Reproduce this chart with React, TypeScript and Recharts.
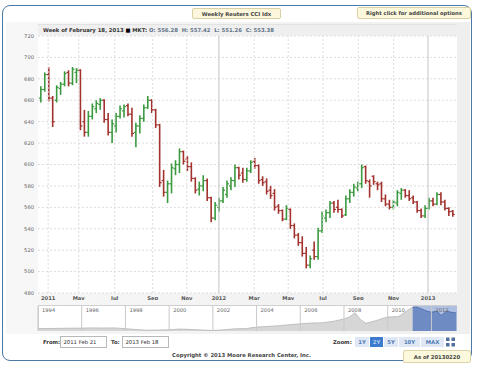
import React from 'react';
import {
  ComposedChart, Bar, XAxis, YAxis, CartesianGrid, ReferenceLine,
  AreaChart, Area, ReferenceArea,
} from 'recharts';

// ---- weekly OHLC (Feb 21 2011 .. Feb 18 2013), index = week number ----
const opens = [
  662, 670, 684, 662, 660, 671, 675, 686, 676, 686, 688, 640, 630, 645, 652, 656, 660, 642, 630, 636,
  645, 650, 655, 647, 630, 636, 643, 653, 660, 651, 637, 585, 574, 582, 596, 600, 612, 605, 598, 587,
  577, 580, 585, 569, 550, 560, 566, 572, 580, 585, 597, 592, 586, 594, 603, 599, 586, 584, 576, 573,
  561, 557, 549, 558, 543, 534, 527, 517, 506, 520, 514, 538, 550, 555, 564, 560, 558, 553, 568, 574,
  578, 582, 598, 584, 589, 582, 582, 568, 563, 560, 564, 573, 576, 571, 569, 565, 557, 552, 559, 566,
  563, 572, 565, 559, 556.28,
];
const highs = [
  673, 686, 691, 664, 674, 677, 687, 688, 691, 690, 689, 651, 650, 657, 660, 662, 661, 648, 642, 648,
  655, 656, 657, 653, 639, 646, 656, 664, 661, 652, 638, 595, 585, 601, 604, 615, 613, 608, 602, 588,
  584, 590, 587, 570, 565, 569, 579, 585, 588, 600, 598, 597, 597, 604, 606, 600, 589, 587, 580, 577,
  563, 558, 562, 559, 545, 536, 533, 523, 515, 528, 541, 556, 558, 566, 566, 567, 559, 571, 577, 582,
  584, 600, 599, 586, 590, 584, 584, 572, 567, 567, 576, 578, 577, 576, 571, 566, 559, 562, 569, 569,
  574, 574, 567, 560, 557.42,
];
const lows = [
  658, 668, 659, 635, 658, 665, 673, 673, 674, 676, 632, 626, 626, 642, 648, 651, 639, 627, 620, 630,
  643, 644, 645, 626, 616, 629, 640, 652, 648, 634, 579, 570, 564, 573, 590, 592, 600, 594, 584, 573,
  571, 575, 566, 546, 548, 556, 564, 569, 576, 579, 586, 583, 584, 592, 596, 582, 580, 572, 568, 557,
  554, 547, 548, 540, 531, 524, 514, 503, 503, 511, 511, 536, 546, 550, 555, 555, 550, 552, 564, 570,
  575, 578, 582, 569, 581, 576, 565, 561, 558, 558, 561, 567, 569, 566, 563, 555, 550, 550, 558, 561,
  562, 562, 557, 552, 551.26,
];
const closes = [
  670, 684, 662, 640, 672, 675, 685, 676, 689, 688, 636, 630, 645, 654, 657, 660, 642, 630, 638, 645,
  652, 654, 647, 629, 636, 643, 653, 660, 651, 637, 583, 574, 582, 597, 600, 612, 603, 598, 587, 576,
  580, 585, 569, 550, 562, 566, 576, 582, 585, 597, 590, 586, 594, 602, 599, 585, 583, 575, 571, 560,
  557, 549, 559, 543, 534, 527, 517, 506, 512, 514, 538, 552, 555, 564, 558, 558, 552, 568, 574, 579,
  582, 597, 585, 580, 584, 581, 568, 563, 560, 565, 574, 576, 571, 568, 565, 557, 552, 559, 566, 563,
  572, 565, 559, 556, 553.38,
];

const yTicks = [480, 500, 520, 540, 560, 580, 600, 620, 640, 660, 680, 700, 720];
const xTickPos = [1.8, 9.5, 18.6, 28.2, 36.8, 44.9, 53.8, 62.4, 71.2, 80.1, 89.0, 97.7];
const xTickLabels = ['2011', 'May', 'Jul', 'Sep', 'Nov', '2012', 'Mar', 'May', 'Jul', 'Sep', 'Nov', '2013'];
const yearLabels = ['2012', '2013'];

// ---- navigator (long history) ----
const navYears = [
  1994, 1994.5, 1995, 1995.5, 1996, 1996.5, 1997, 1997.5, 1998, 1998.5, 1999, 1999.5, 2000, 2000.5,
  2001, 2001.5, 2002, 2002.5, 2003, 2003.5, 2004, 2004.5, 2005, 2005.5, 2006, 2006.5, 2007, 2007.5,
  2008, 2008.25, 2008.5, 2008.75, 2009, 2009.25, 2009.5, 2009.75, 2010, 2010.5, 2010.75, 2011, 2011.14,
  2011.3, 2011.5, 2011.75, 2012, 2012.25, 2012.4, 2012.45, 2012.6, 2012.7, 2012.9, 2013.1, 2013.13,
];
const navValues = [
  230, 232, 235, 238, 240, 245, 242, 245, 228, 210, 195, 200, 205, 220,
  212, 200, 190, 205, 225, 230, 262, 275, 290, 310, 330, 345, 350, 380,
  430, 470, 560, 420, 340, 370, 400, 440, 470, 480, 560, 640, 670,
  680, 650, 600, 570, 595, 530, 505, 560, 595, 570, 560, 553,
];
const navSelStart = 2011.14;
const navEnd = 2013.17;
const navTicks = [1994, 1996, 1998, 2000, 2002, 2004, 2006, 2008, 2010, 2012];

const data = opens.map((o, i) => ({
  i, open: o, high: highs[i], low: lows[i], close: closes[i], range: [lows[i], highs[i]],
}));
const navData = navYears.map((yr, k) => ({
  yr,
  hist: yr <= navSelStart ? navValues[k] : null,
  sel: yr >= navSelStart ? navValues[k] : null,
}));

const last = data[data.length - 1];
const FONT = '"DejaVu Sans", Verdana, sans-serif';
const UP = '#3b9a3f';
const DOWN = '#a3322e';

const OhlcShape = (props: any) => {
  const { x, y, width, height, payload } = props;
  if (x == null || y == null) return null;
  const { open, close, high, low } = payload;
  const cx = x + width / 2;
  const toY = (v: number) => y + ((high - v) / (high - low)) * height;
  const color = close >= open ? UP : DOWN;
  return (
    <g>
      <line x1={cx} x2={cx} y1={y} y2={y + height} stroke={color} strokeWidth={1.6} />
      <line x1={cx - 2} x2={cx} y1={toY(open)} y2={toY(open)} stroke={color} strokeWidth={1.2} />
      <line x1={cx} x2={cx + 2} y1={toY(close)} y2={toY(close)} stroke={color} strokeWidth={1.2} />
    </g>
  );
};

const XTick = (props: any) => {
  const { x, y, payload } = props;
  const idx = xTickPos.indexOf(payload.value);
  return (
    <text x={x} y={y} dy="0.71em" textAnchor="middle" fontFamily={FONT} fontSize={5.2}
      fontWeight="bold" fill="#555">{xTickLabels[idx]}</text>
  );
};
const YTick = (props: any) => {
  const { x, y, payload } = props;
  return (
    <text x={x} y={y} dy="0.355em" textAnchor="end" fontFamily={FONT} fontSize={5.2} fill="#666">
      {payload.value}
    </text>
  );
};
const NavTick = (props: any) => {
  const { x, payload } = props;
  return (
    <text x={x + 4} y={3} dy="0.71em" textAnchor="start" fontFamily={FONT} fontSize={5.2} fill="#666">
      {payload.value}
    </text>
  );
};

const abs = (l: number, t: number, extra: any = {}) => ({ position: 'absolute' as const, left: l, top: t, ...extra });

export default function App() {
  return (
    <div style={{ position: 'absolute', left: 0, top: 0, width: 480, height: 369, background: '#fff', fontFamily: FONT, overflow: 'hidden' }}>
      {/* outer frame */}
      <div style={abs(2, 5, { width: 468, height: 354, border: '1.5px solid #4d79a6', borderRadius: 8, background: '#fff' })} />
      {/* gray chart background */}
      <div style={abs(6, 22, { width: 464, height: 312, background: 'linear-gradient(to right, #f7f7f7, #efefef)' })} />

      {/* main chart */}
      <div style={abs(0, 0)}>
        <ComposedChart width={480} height={300} data={data}
          margin={{ top: 36, right: 23, left: 0, bottom: 0 }}>
          <CartesianGrid horizontal vertical={false} stroke="#dcdcdc" strokeDasharray="2 2" fill="#fff" />
          <XAxis dataKey="i" type="number" domain={[-0.76, 105.01]} allowDataOverflow ticks={xTickPos}
            interval={0} axisLine={false} tickLine={false} tickSize={0} tickMargin={3} height={7} tick={<XTick />} />
          <YAxis type="number" domain={[480, 720]} allowDataOverflow ticks={yTicks} interval={0}
            axisLine={false} tickLine={false} tickSize={0} tickMargin={4} width={38} tick={<YTick />} />
          {xTickPos.map((p, k) => (
            <ReferenceLine key={k} x={p} stroke={yearLabels.includes(xTickLabels[k]) ? '#c4c4c4' : '#dcdcdc'}
              strokeDasharray={yearLabels.includes(xTickLabels[k]) ? undefined : '2 2'} />
          ))}
          <Bar dataKey="range" barSize={4} isAnimationActive={false} shape={<OhlcShape />} />
        </ComposedChart>
      </div>

      {/* header strip */}
      <div style={abs(38, 24, { width: 419, height: 10, background: '#efefef', borderTop: '1px solid #e2e2e2' })}>
        <div style={{ position: 'absolute', left: 5, top: 1.5, fontSize: 5.3, fontWeight: 'bold', whiteSpace: 'nowrap', color: '#333' }}>
          Week of February 18, 2013 <span style={{ color: '#000' }}>■</span> MKT:{' '}
          <span style={{ color: '#5f7286' }}>O: {last.open.toFixed(2)}&nbsp; H: {last.high.toFixed(2)}&nbsp; L: {last.low.toFixed(2)}&nbsp; C: {last.close.toFixed(2)}</span>
        </div>
      </div>

      {/* title buttons */}
      <div style={abs(192, 8, { width: 89, height: 11, background: '#fbf6dc', border: '1px solid #d9d0a3', borderRadius: 2, boxSizing: 'border-box', fontSize: 5.3, fontWeight: 'bold', color: '#444', textAlign: 'center', lineHeight: '10px' })}>
        Weekly Reuters CCI Idx
      </div>
      <div style={abs(357, 7, { width: 114, height: 12, background: '#fbf8dc', border: '1px solid #d9d0a3', borderRadius: 2, boxSizing: 'border-box', fontSize: 5.2, fontWeight: 'bold', color: '#444', textAlign: 'center', lineHeight: '11px' })}>
        Right click for additional options
      </div>

      {/* navigator */}
      <div style={abs(38, 305, { width: 419, height: 26, border: '1px solid #cfcfcf', boxSizing: 'border-box', background: '#fff' })} />
      <div style={abs(0, 305)}>
        <AreaChart width={480} height={26} data={navData} margin={{ top: 0, right: 23, left: 38, bottom: 0 }}>
          <XAxis dataKey="yr" type="number" orientation="top" domain={[1994, navEnd]} allowDataOverflow
            ticks={navTicks} interval={0} axisLine={false} tickLine={false} height={1} tick={<NavTick />} />
          <YAxis type="number" domain={[180, 700]} hide allowDataOverflow />
          <ReferenceArea x1={navSelStart} x2={navEnd} y1={180} y2={700} fill="#aebfe2" fillOpacity={1} stroke="none" />
          {navTicks.map((t) => (
            <ReferenceLine key={t} x={t} stroke="#c9c9c9" />
          ))}
          <Area type="linear" dataKey="hist" stroke="#b5b5b5" strokeWidth={0.8} fill="#d6d6d6" fillOpacity={1}
            isAnimationActive={false} connectNulls={false} dot={false} />
          <Area type="linear" dataKey="sel" stroke="#4a6aa8" strokeWidth={0.8} fill="#6e8bc4" fillOpacity={1}
            isAnimationActive={false} connectNulls={false} dot={false} />
        </AreaChart>
      </div>

      {/* bottom controls */}
      <div style={abs(43, 339, { fontSize: 5.3, fontWeight: 'bold', color: '#333' })}>From:</div>
      <div style={abs(60, 336, { width: 47, height: 12, border: '1px solid #b9b9b9', boxSizing: 'border-box', background: '#fff', fontSize: 5.3, color: '#333', lineHeight: '10px', paddingLeft: 2.5 })}>2011 Feb 21</div>
      <div style={abs(111, 339, { fontSize: 5.3, fontWeight: 'bold', color: '#333' })}>To:</div>
      <div style={abs(122, 336, { width: 47, height: 12, border: '1px solid #b9b9b9', boxSizing: 'border-box', background: '#fff', fontSize: 5.3, color: '#333', lineHeight: '10px', paddingLeft: 2.5 })}>2013 Feb 18</div>

      <div style={abs(333, 339, { fontSize: 5.3, fontWeight: 'bold', color: '#333' })}>Zoom:</div>
      {[
        { t: '1Y', l: 355, w: 14, on: false },
        { t: '2Y', l: 370, w: 13, on: true },
        { t: '5Y', l: 384, w: 14, on: false },
        { t: '10Y', l: 399, w: 21, on: false },
        { t: 'MAX', l: 421, w: 23, on: false },
      ].map((b) => (
        <div key={b.t} style={abs(b.l, 337, { width: b.w, height: 10, background: b.on ? '#3d7bcc' : '#dfe8f4', color: b.on ? '#b9d2f2' : '#4f78b4', fontSize: 5.3, fontWeight: 'bold', textAlign: 'center', lineHeight: '10px' })}>{b.t}</div>
      ))}
      <svg style={abs(446, 337)} width={9} height={10}>
        <rect x={0} y={0.5} width={3.5} height={3.5} fill="#4f6f9c" />
        <rect x={5.5} y={0.5} width={3.5} height={3.5} fill="#4f6f9c" />
        <rect x={0} y={6} width={3.5} height={3.5} fill="#4f6f9c" />
        <rect x={5.5} y={6} width={3.5} height={3.5} fill="#4f6f9c" />
      </svg>

      <div style={abs(0, 352, { width: 483, textAlign: 'center', fontSize: 5.3, fontWeight: 'bold', color: '#444' })}>
        Copyright © 2013 Moore Research Center, Inc.
      </div>
      <div style={abs(403, 350, { width: 68, height: 13, background: '#fbf8dc', border: '1px solid #dcd5aa', boxSizing: 'border-box', fontSize: 5.3, fontWeight: 'bold', color: '#444', textAlign: 'center', lineHeight: '12px', borderRadius: 2 })}>
        As of 20130220
      </div>
    </div>
  );
}
